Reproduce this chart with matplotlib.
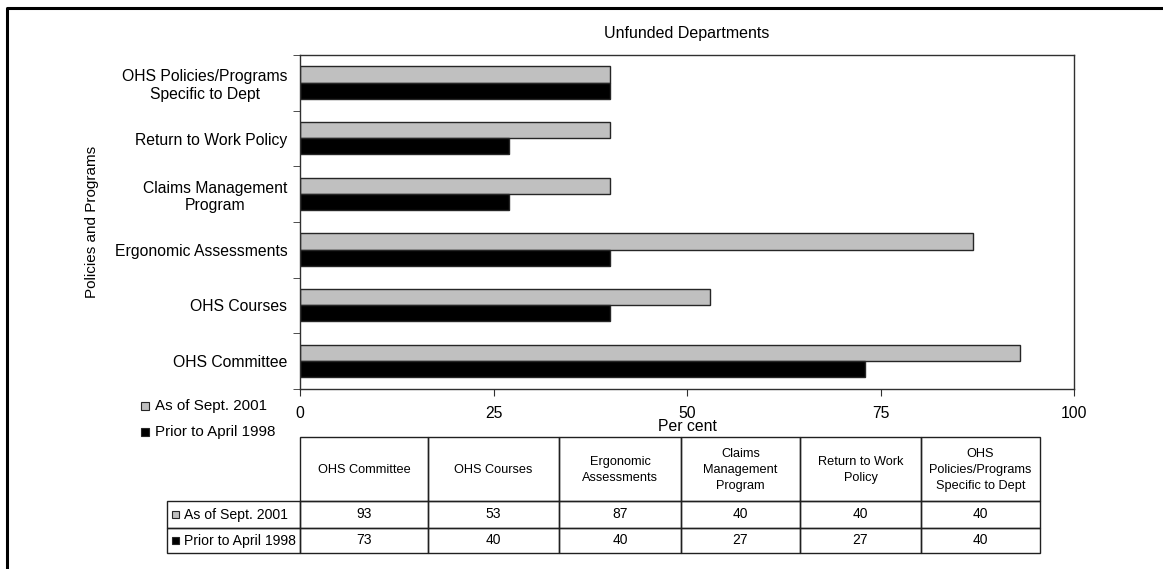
import matplotlib
matplotlib.use("Agg")
import matplotlib.pyplot as plt
from matplotlib.patches import Rectangle
import numpy as np

plt.rcParams['font.family'] = ['Liberation Sans', 'DejaVu Sans']

categories = ["OHS Committee", "OHS Courses", "Ergonomic Assessments",
              "Claims Management\nProgram", "Return to Work Policy",
              "OHS Policies/Programs\nSpecific to Dept"]
table_headers = ["OHS Committee", "OHS Courses", "Ergonomic\nAssessments",
                 "Claims\nManagement\nProgram", "Return to Work\nPolicy",
                 "OHS\nPolicies/Programs\nSpecific to Dept"]
sept2001 = [93, 53, 87, 40, 40, 40]
april1998 = [73, 40, 40, 27, 27, 40]
series_names = ["As of Sept. 2001", "Prior to April 1998"]
xticks = [0, 25, 50, 75, 100]

GRAY = "#C0C0C0"
BLACK = "#000000"
EDGE = "#262626"

W, H = 1163, 569
fig = plt.figure(figsize=(W / 100, H / 100), dpi=100)

def fx(px):
    return px / W

def fy(py):
    return 1 - py / H

# main axes
ax_l, ax_r, ax_t, ax_b = 300, 1074, 55, 389
ax = fig.add_axes([fx(ax_l), fy(ax_b), fx(ax_r - ax_l), (ax_b - ax_t) / H])
y = np.arange(len(categories))
bh = 0.29
ax.barh(y + bh / 2 + 0.005, sept2001, height=bh, color=GRAY, edgecolor=EDGE, linewidth=1)
ax.barh(y - bh / 2 + 0.005, april1998, height=bh, color=BLACK, edgecolor=EDGE, linewidth=1)
ax.set_xlim(0, 100)
ax.set_ylim(-0.5, len(categories) - 0.5)
ax.set_xticks(xticks)
ax.set_xticklabels([str(t) for t in xticks], fontsize=11.3)
ax.set_yticks(y)
ax.set_yticklabels(categories, fontsize=11.3, ha="right", multialignment="center")
ax.tick_params(axis="y", which="major", length=0, pad=9)
ax.set_yticks(np.arange(-0.5, len(categories) + 0.5, 1), minor=True)
ax.tick_params(axis="y", which="minor", length=5, direction="out", color="#303030")
ax.tick_params(axis="x", length=5, direction="out", color="#303030", pad=7)
for s in ax.spines.values():
    s.set_color("#303030")
    s.set_linewidth(1)
ax.set_title("Unfunded Departments", fontsize=11.5, pad=12)
ax.set_xlabel("Per cent", fontsize=11.3, labelpad=-1)
fig.text(fx(92), fy(222), "Policies and Programs", fontsize=11, rotation=90,
         ha="center", va="center")

# overlay axes for frame, legend and data table
ov = fig.add_axes([0, 0, 1, 1], zorder=-1)
ov.set_xlim(0, W)
ov.set_ylim(H, 0)
ov.axis("off")
ov.plot([7, 7, W + 5], [H + 5, 8, 8], color="black", lw=2.2, solid_capstyle="butt")

# legend at left
for i, (name, col) in enumerate(zip(series_names, [GRAY, BLACK])):
    yy = 406 + i * 26
    ov.add_patch(Rectangle((141, yy - 4), 8, 8, facecolor=col, edgecolor=EDGE, lw=0.8))
    ov.text(155, yy, name, fontsize=10.9, va="center", ha="left")

# data table
col_edges = [300, 428, 559, 681, 800, 921, 1040]
row_edges = [437, 501, 528, 553]
lab_left = 167
tcol = "#202020"
for j, hdr in enumerate(table_headers):
    x0, x1 = col_edges[j], col_edges[j + 1]
    ov.add_patch(Rectangle((x0, row_edges[0]), x1 - x0, row_edges[1] - row_edges[0],
                           fill=False, edgecolor=tcol, lw=1))
    ov.text((x0 + x1) / 2, (row_edges[0] + row_edges[1]) / 2 + 1, hdr,
            fontsize=9.2, ha="center", va="center", linespacing=1.4)
for i, (name, vals, col) in enumerate(zip(series_names, [sept2001, april1998], [GRAY, BLACK])):
    r0, r1 = row_edges[i + 1], row_edges[i + 2]
    ov.add_patch(Rectangle((lab_left, r0), col_edges[0] - lab_left, r1 - r0,
                           fill=False, edgecolor=tcol, lw=1))
    ov.add_patch(Rectangle((172, (r0 + r1) / 2 - 3.5), 7, 7, facecolor=col, edgecolor=EDGE, lw=0.8))
    ov.text(184, (r0 + r1) / 2, name, fontsize=10.1, ha="left", va="center")
    for j, v in enumerate(vals):
        x0, x1 = col_edges[j], col_edges[j + 1]
        ov.add_patch(Rectangle((x0, r0), x1 - x0, r1 - r0, fill=False, edgecolor=tcol, lw=1))
        ov.text((x0 + x1) / 2, (r0 + r1) / 2, str(v), fontsize=10, ha="center", va="center")

fig.savefig("out.png", dpi=100)
